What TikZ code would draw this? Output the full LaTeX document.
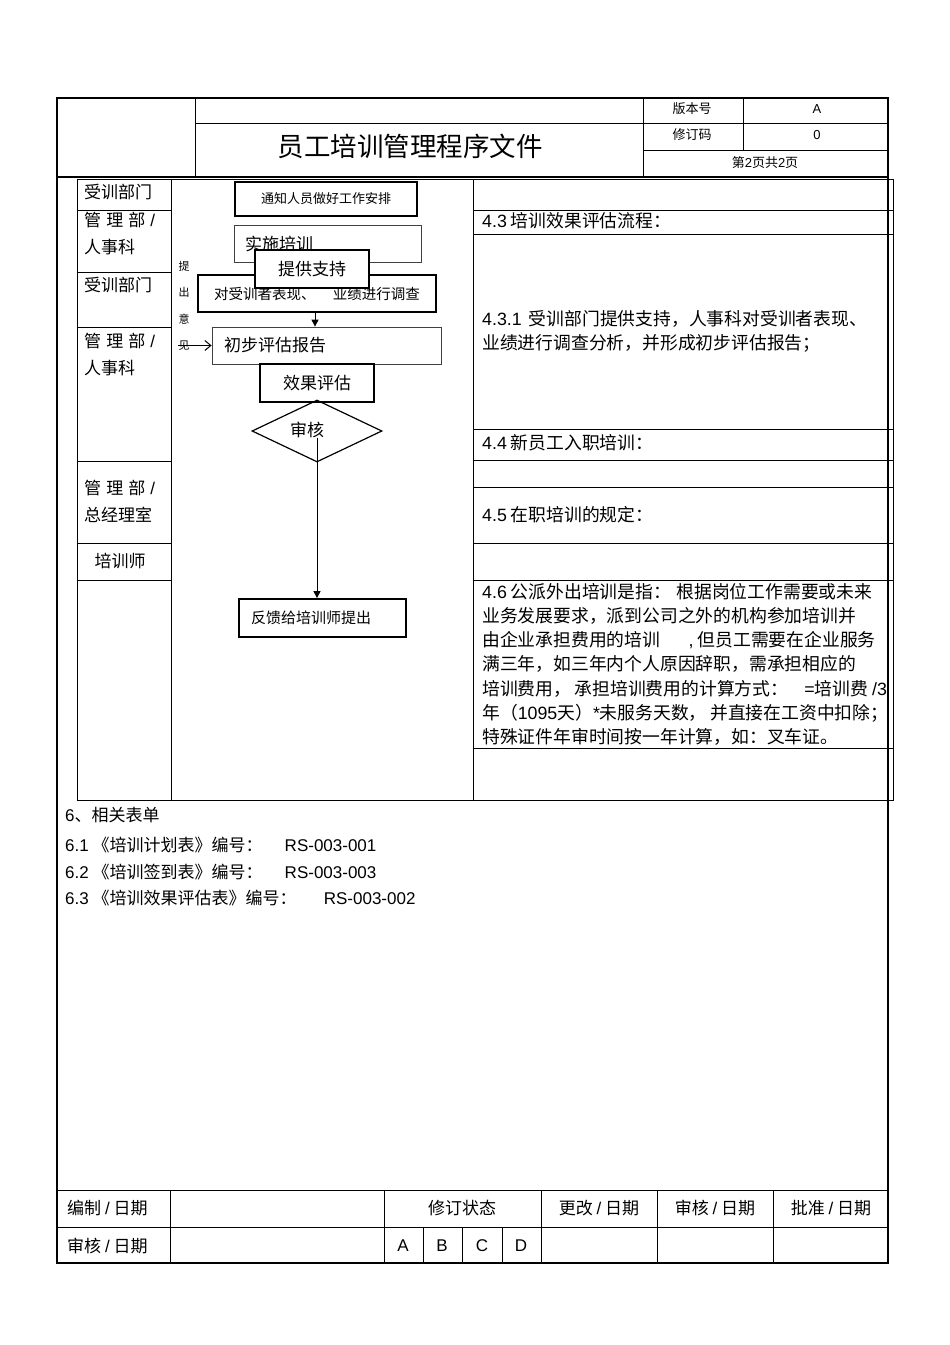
\documentclass[tikz,border=0pt]{standalone}
\usepackage{fontspec}
\setmainfont{Noto Sans CJK SC}
\newfontfamily\latfont{Liberation Sans}
\newcommand{\entxt}[1]{{\latfont #1}}
\usetikzlibrary{arrows.meta, positioning, shapes.geometric}

\tikzset{
    rule/.style={line width=0.8pt},
    frame/.style={line width=1.3pt},
    thinbox/.style={draw=black!75, line width=0.8pt, fill=white, inner sep=0pt},
    thickbox/.style={draw, line width=1.8pt, fill=white, inner sep=0pt},
    small/.style={font=\fontsize{13}{16}\selectfont},
    dept/.style={anchor=north west, inner sep=0pt, align=left, font=\fontsize{17}{27}\selectfont},
    para/.style={anchor=north west, inner sep=0pt, align=left, font=\fontsize{17.8}{24.2}\selectfont},
    item/.style={anchor=west, inner sep=0pt, font=\fontsize{17.8}{24}\selectfont},
}

\begin{document}
\begin{tikzpicture}[
    x=1pt, y=-1pt,
    >={Triangle[length=7pt, width=7pt]},
    every node/.style={font=\fontsize{17}{24}\selectfont},
]
\useasboundingbox (0,0) rectangle (950,1345);

% Outer frame
\draw[frame] (57,98) rectangle (888,1263);

% Header
\draw[rule] (195,98) -- (195,177);
\draw[rule] (643,98) -- (643,177);
\draw[rule] (743,98) -- (743,150);
\draw[rule] (195,123) -- (888,123);
\draw[rule] (643,150) -- (888,150);
\draw[frame] (57,177) -- (888,177);

\node[font=\fontsize{26.5}{30}\selectfont] (title) at (410,146) {员工培训管理程序文件};
\node[small] (banbenhao) at (692,109) {版本号};
\node[small] (banbenval) at (817,109) {\entxt{A}};
\node[small] (xiudingma) at (692,135) {修订码};
\node[small] (xiudingval) at (817,135) {\entxt{0}};
\node[small] (yema) at (765,163) {第\entxt{2}页共\entxt{2}页};

% Body grid
\draw[rule] (77,179) rectangle (893,800);
\draw[rule] (171,179) -- (171,800);
\draw[rule] (473,179) -- (473,800);
\foreach \y in {210,272,327,461,543,580}
    \draw[rule] (77,\y) -- (171,\y);
\foreach \y in {210,234,429,460,487,543,580,748}
    \draw[rule] (473,\y) -- (893,\y);

% Departments
\node[anchor=west, inner sep=0pt] (dept1) at (84,192) {受训部门};
\node[dept] (dept2) at (84,212)
    {\makebox[71pt][s]{管 理 部 \entxt{/}}\\人事科};
\node[anchor=west, inner sep=0pt] (dept3) at (84,285) {受训部门};
\node[dept] (dept4) at (84,333)
    {\makebox[71pt][s]{管 理 部 \entxt{/}}\\人事科};
\node[dept] (dept5) at (84,480)
    {\makebox[71pt][s]{管 理 部 \entxt{/}}\\总经理室};
\node (dept6) at (120,561) {培训师};

% Flow
\node[thickbox, minimum width=182, minimum height=34, font=\fontsize{13}{16}\selectfont]
    (tongzhi) at (326,199) {通知人员做好工作安排};
\node[thinbox, minimum width=187, minimum height=37, text width=165, align=left]
    (shishi) at (327.5,243.5) {实施培训};
\node[thickbox, minimum width=238, minimum height=37, font=\fontsize{14.5}{18}\selectfont]
    (diaocha) at (317,293.5) {对受训者表现、\hspace{1.2em}业绩进行调查};
\node[thickbox, minimum width=114, minimum height=38] (tigong) at (312,269) {提供支持};
\node[thinbox, minimum width=229, minimum height=37, text width=205, align=left]
    (chubu) at (326.5,345.5) {初步评估报告};
\node[thickbox, minimum width=114, minimum height=38] (xiaoguo) at (317,383) {效果评估};
\node[diamond, draw, line width=1.2pt, minimum width=130, minimum height=62, inner sep=0pt]
    (shenhe) at (317,431) {};
\node (shenhetxt) at (307,430) {审核};
\node[thickbox, minimum width=167, minimum height=38, text width=143, align=left,
    font=\fontsize{15}{18}\selectfont] (fankui) at (322.5,618) {反馈给培训师提出};
\node[align=center, font=\fontsize{11}{26.5}\selectfont, inner sep=0pt]
    (tichu) at (184,306) {提\\出\\意\\见};

\draw[->, line width=1pt] (diaocha.south -| 315,0) -- (chubu.north -| 315,0);
\draw[-{Straight Barb[length=6pt, width=10pt]}, line width=1pt] (tichu.west |- chubu.west) -- (chubu.west);
\draw[->, line width=1pt] ([yshift=-7pt]shenhe.center) -- (shenhe.center |- fankui.north);

% Right column
\node[item] (sec43) at (482,221) {\entxt{4.3} 培训效果评估流程：};
\node[para] (sec431) at (482,310)
    {\entxt{4.3.1}\hspace{0.4em}受训部门提供支持，人事科对受训者表现、\\
     业绩进行调查分析，并形成初步评估报告；};
\node[item] (sec44) at (482,443) {\entxt{4.4} 新员工入职培训：};
\node[item] (sec45) at (482,515) {\entxt{4.5} 在职培训的规定：};
\node[para] (sec46) at (482,583)
    {\entxt{4.6} 公派外出培训是指：\hspace{0.3em}根据岗位工作需要或未来\\
     业务发展要求，派到公司之外的机构参加培训并\\
     由企业承担费用的培训\hspace{1.6em}\entxt{,} 但员工需要在企业服务\\
     满三年，如三年内个人原因辞职，需承担相应的\\
     培训费用，\hspace{0.2em}承担培训费用的计算方式：\hspace{0.9em}\entxt{=}培训费 \entxt{/3}\\
     年（\entxt{1095}天）\entxt{*}未服务天数，\hspace{0.2em}并直接在工资中扣除；\\
     特殊证件年审时间按一年计算，如：叉车证。};

% Related forms
\node[anchor=west, inner sep=0pt] (sec6) at (65,815) {\entxt{6}、相关表单};
\node[anchor=west, inner sep=0pt] (form1) at (65,845)
    {\entxt{6.1} 《培训计划表》编号：\hspace{1.3em}\entxt{RS-003-001}};
\node[anchor=west, inner sep=0pt] (form2) at (65,872)
    {\entxt{6.2} 《培训签到表》编号：\hspace{1.3em}\entxt{RS-003-003}};
\node[anchor=west, inner sep=0pt] (form3) at (65,898)
    {\entxt{6.3} 《培训效果评估表》编号：\hspace{1.6em}\entxt{RS-003-002}};

% Sign-off table
\draw[rule] (57,1190) -- (888,1190);
\draw[rule] (57,1227) -- (888,1227);
\foreach \x in {170,384,541,657,773}
    \draw[rule] (\x,1190) -- (\x,1263);
\foreach \x in {423,462,502}
    \draw[rule] (\x,1227) -- (\x,1263);

\node[anchor=west, inner sep=0pt] (bianzhi) at (67,1208) {编制 \entxt{/} 日期};
\node[anchor=west, inner sep=0pt] (shenhe1) at (67,1246) {审核 \entxt{/} 日期};
\node (xiuding) at (462,1208) {修订状态};
\node (genggai) at (599,1208) {更改 \entxt{/} 日期};
\node (shenhe2) at (715,1208) {审核 \entxt{/} 日期};
\node (pizhun) at (831,1208) {批准 \entxt{/} 日期};
\node (revA) at (403,1246) {\entxt{A}};
\node (revB) at (442,1246) {\entxt{B}};
\node (revC) at (482,1246) {\entxt{C}};
\node (revD) at (521,1246) {\entxt{D}};

\end{tikzpicture}
\end{document}
